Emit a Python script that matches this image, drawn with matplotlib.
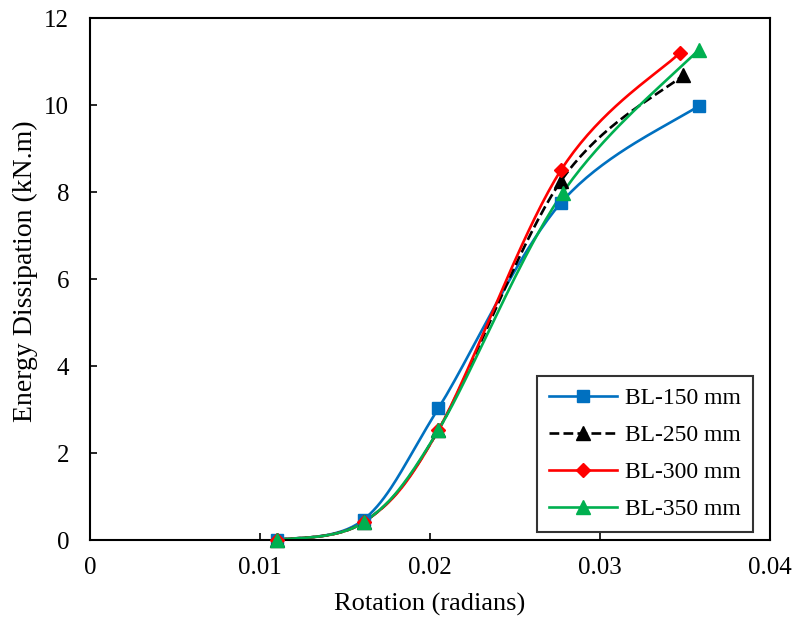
import numpy as np
import matplotlib
matplotlib.use("Agg")
import matplotlib.pyplot as plt

plt.rcParams['font.family'] = ['Liberation Serif', 'DejaVu Serif']

labels = ["BL-150 mm", "BL-250 mm", "BL-300 mm", "BL-350 mm"]
x150 = [0.011, 0.0161, 0.0205, 0.0277, 0.0358]
y150 = [0.0, 0.47, 3.03, 7.75, 9.98]
x250 = [0.011, 0.0161, 0.0205, 0.0277, 0.0349]
y250 = [0.0, 0.41, 2.53, 8.25, 10.69]
x300 = [0.011, 0.0161, 0.0205, 0.0277, 0.0347]
y300 = [0.0, 0.41, 2.53, 8.5, 11.2]
x350 = [0.011, 0.0161, 0.0205, 0.0278, 0.0358]
y350 = [0.0, 0.41, 2.53, 7.98, 11.27]

colors = ["#0070C0", "#000000", "#FF0000", "#00B050"]
markers = ["s", "^", "D", "^"]
styles = ["-", "--", "-", "-"]
msizes = [9, 9.5, 7.5, 10.5]


def smooth(ax, x, y, npts=40):
    # Excel-like smoothed line (Catmull-Rom style Bezier) in display space
    trans = ax.transData
    P = trans.transform(np.column_stack([x, y]))
    n = len(P)
    out = []
    for i in range(n - 1):
        p0 = P[i - 1] if i > 0 else P[i]
        p1 = P[i]
        p2 = P[i + 1]
        p3 = P[i + 2] if i + 2 < n else P[i + 1]
        c1 = p1 + (p2 - p0) / 6.0
        c2 = p2 - (p3 - p1) / 6.0
        t = np.linspace(0, 1, npts)[:, None]
        seg = ((1 - t) ** 3) * p1 + 3 * ((1 - t) ** 2) * t * c1 + 3 * (1 - t) * t ** 2 * c2 + t ** 3 * p2
        out.append(seg if i == 0 else seg[1:])
    pts = np.vstack(out)
    return trans.inverted().transform(pts)


fig = plt.figure(figsize=(7.92, 6.22), dpi=100)
ax = fig.add_axes([0.1136, 0.1318, 0.8586, 0.8392])
ax.set_xlim(0, 0.04)
ax.set_ylim(0, 12)

data = [(x150, y150), (x250, y250), (x300, y300), (x350, y350)]
handles = []
for (xs, ys), c, m, ls, ms, lab in zip(data, colors, markers, styles, msizes, labels):
    s = smooth(ax, xs, ys)
    ax.plot(s[:, 0], s[:, 1], color=c, ls=ls, lw=1.9, zorder=2)
    ax.plot(xs, ys, ls='none', marker=m, color=c, ms=ms, zorder=3, clip_on=False)
    h, = ax.plot([], [], color=c, ls=ls, lw=1.9, marker=m, ms=ms, label=lab)
    handles.append(h)

ax.set_xticks([0, 0.01, 0.02, 0.03, 0.04])
ax.set_xticklabels(["0", "0.01", "0.02", "0.03", "0.04"])
ax.set_yticks([0, 2, 4, 6, 8, 10, 12])
ax.tick_params(direction='in', length=5, width=1.2, labelsize=18)
ax.tick_params(axis='y', pad=15)
ax.tick_params(axis='x', pad=12)
for sp in ax.spines.values():
    sp.set_linewidth(1.5)

ax.set_xlabel("Rotation (radians)", fontsize=19, labelpad=10)
ax.set_ylabel("Energy Dissipation (kN.m)", fontsize=20)
ax.yaxis.set_label_coords(-0.077, 0.515)

leg = ax.legend(handles=handles, loc='lower right', bbox_to_anchor=(0.975, 0.015),
                fontsize=17, frameon=True, fancybox=False, edgecolor='black',
                handlelength=2.9, borderpad=0.5, labelspacing=0.66, handletextpad=0.35,
                borderaxespad=0)
leg.get_frame().set_linewidth(1.5)

fig.savefig("out.png", dpi=100)
